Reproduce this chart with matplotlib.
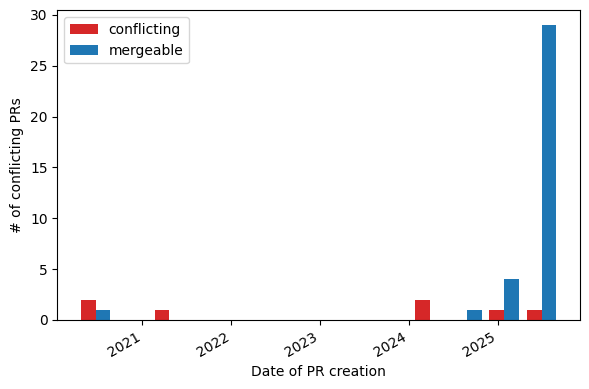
import datetime as dt
import matplotlib
matplotlib.use("Agg")
import matplotlib.pyplot as plt
import matplotlib.dates as mdates

# bin centres and counts per bin
bin_dates = ["2020-06-23", "2021-04-22", "2024-03-26", "2024-08-27", "2025-01-25", "2025-06-28"]
conflicting = [2, 1, 2, 0, 1, 1]
mergeable = [1, 0, 0, 1, 4, 29]

dates = [dt.datetime.strptime(d, "%Y-%m-%d") for d in bin_dates]
width = dt.timedelta(days=60)
half = dt.timedelta(days=30)

fig, ax = plt.subplots(figsize=(5.89, 3.89), dpi=100)
fig.subplots_adjust(left=0.0973, right=0.9847, top=0.9735, bottom=0.1774)

ax.bar([d - half for d in dates], conflicting, width=width, color="tab:red", label="conflicting")
ax.bar([d + half for d in dates], mergeable, width=width, color="tab:blue", label="mergeable")

ax.xaxis.set_major_locator(mdates.YearLocator())
ax.xaxis.set_major_formatter(mdates.DateFormatter("%Y"))
for lbl in ax.get_xticklabels():
    lbl.set_rotation(30)
    lbl.set_ha("right")

ax.set_xlabel("Date of PR creation")
ax.set_ylabel("# of conflicting PRs")
ax.legend(loc="upper left")

fig.savefig("out.png", dpi=100)
